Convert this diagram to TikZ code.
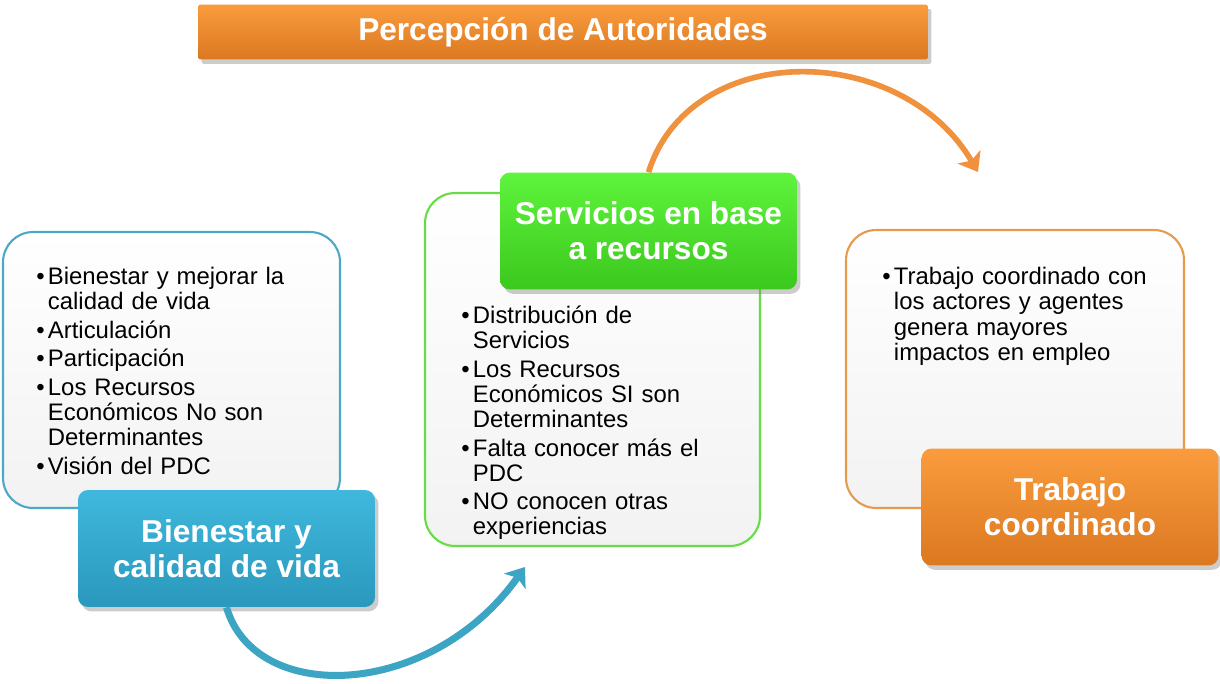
\documentclass[tikz,border=0pt]{standalone}
\usepackage{fontspec}
\setmainfont{Liberation Sans}
\usetikzlibrary{arrows.meta,shadows,calc}
\definecolor{naranjaA}{HTML}{FA9C3E}
\definecolor{naranjaB}{HTML}{DB7820}
\definecolor{azulA}{HTML}{40B8DD}
\definecolor{azulB}{HTML}{2A98BC}
\definecolor{verdeA}{HTML}{5EF43C}
\definecolor{verdeB}{HTML}{3CC81E}
\definecolor{bordeazul}{HTML}{4DA8C6}
\definecolor{bordeverde}{HTML}{66DD44}
\definecolor{bordenaranja}{HTML}{E59A4E}
\definecolor{flechaazul}{HTML}{3BA5C3}
\definecolor{flechanaranja}{HTML}{F0913E}
\newcommand{\itm}[1]{\par\hangindent=6.6pt\hangafter=1\noindent\makebox[6.6pt][l]{\textbullet}#1\par}
\begin{document}
\begin{tikzpicture}[x=0.02cm,y=-0.02cm]
\tikzstyle{caja} = [draw, line width=1.2pt, rounded corners=0.6cm, top color=white, bottom color=black!5]
\tikzstyle{etiqueta} = [rounded corners=0.2cm, text=white, font=\bfseries\fontsize{18}{20}\selectfont, align=center, minimum width=5.94cm, minimum height=2.34cm, drop shadow={opacity=0.4, shadow xshift=2pt, shadow yshift=-2.5pt}]
\tikzstyle{lista} = [anchor=north west, inner sep=0pt, text width=6cm, align=left, font=\fontsize{13.6}{14.3}\selectfont\setlength{\parskip}{1.9pt}]
\tikzstyle{flecha} = [line width=4pt, -{Stealth[length=10pt, width=15pt, inset=2.5pt]}]
\useasboundingbox (0,0) rectangle (1220,683);
\node[etiqueta, top color=naranjaA, bottom color=naranjaB, minimum width=14.6cm, minimum height=1.1cm, rounded corners=1pt] (titulo) at (563,32) {Percepción de Autoridades};
\node[caja, draw=bordeazul, minimum width=6.74cm, minimum height=5.52cm] (izq) at (171.5,370) {};
\node[lista] (izqtxt) at (36,256) {\itm{Bienestar y mejorar la\newline calidad de vida}
\itm{Articulación}
\itm{Participación}
\itm{Los Recursos\newline Económicos No son\newline Determinantes}
\itm{Visión del PDC}};
\node[caja, draw=bordeverde, minimum width=6.7cm, minimum height=7.06cm] (centro) at (592.5,369.5) {};
\node[lista] (centrotxt) at (461,295) {\itm{Distribución de\newline Servicios}
\itm{Los Recursos\newline Económicos SI son\newline Determinantes}
\itm{Falta conocer más el\newline PDC}
\itm{NO conocen otras\newline experiencias}};
\node[caja, draw=bordenaranja, minimum width=6.76cm, minimum height=5.56cm] (der) at (1015,369) {};
\node[lista] (dertxt) at (882,256) {\itm{Trabajo coordinado con\newline los actores y agentes\newline genera mayores\newline impactos en empleo}};
\node[etiqueta, top color=azulA, bottom color=azulB] (bienestar) at (226.5,548.5) {Bienestar y\\calidad de vida};
\node[etiqueta, top color=verdeA, bottom color=verdeB] (servicios) at (648.5,231) {Servicios en base\\a recursos};
\node[etiqueta, top color=naranjaA, bottom color=naranjaB] (trabajo) at (1070,507) {Trabajo\\coordinado};
\coordinate (fin1) at (525,567);
\coordinate (fin2) at (978,172);
\draw[flecha, flechaazul] (bienestar.south) .. controls (255,705) and (430,700) .. (fin1);
\draw[flecha, flechanaranja, line width=3.2pt] (servicios.north) .. controls (690,40) and (900,40) .. (fin2);
\end{tikzpicture}
\end{document}
